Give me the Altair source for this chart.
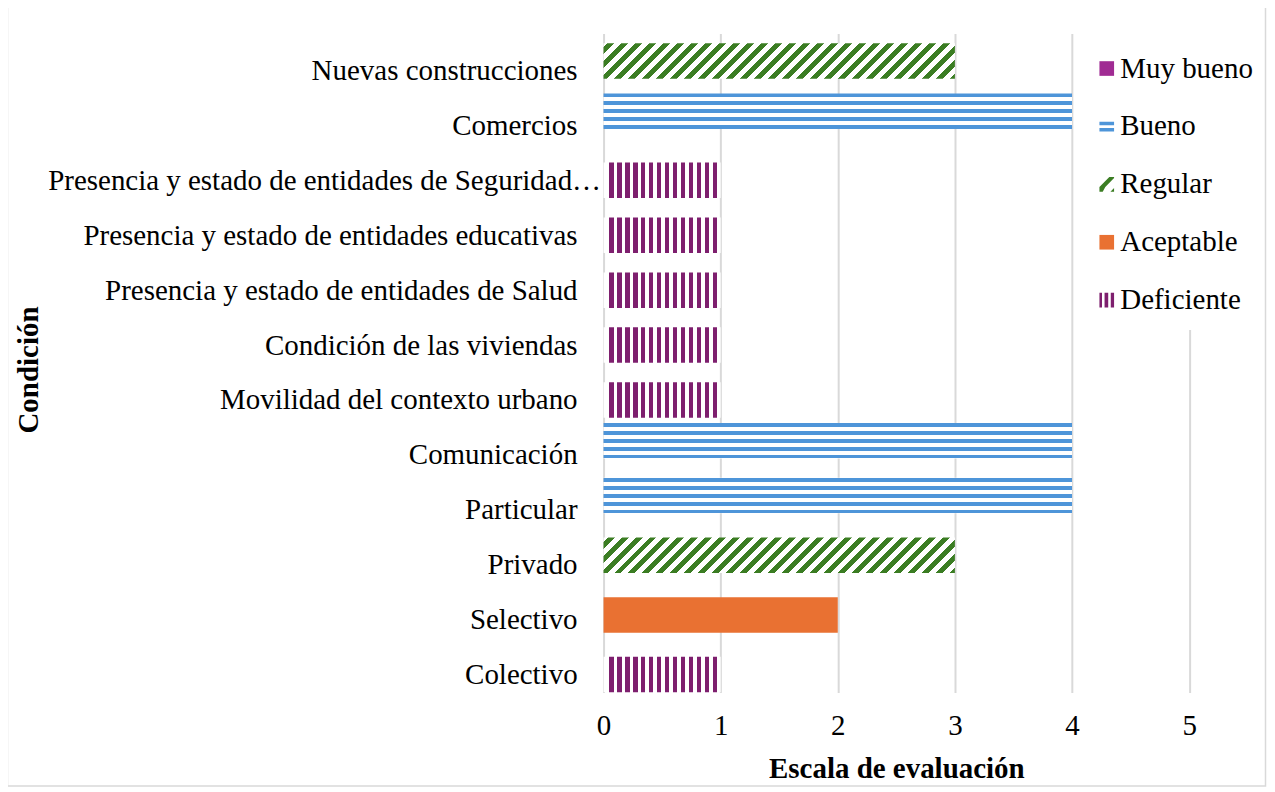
import altair as alt
import pandas as pd

# ---------------- data ----------------
categorias = [
    "Nuevas construcciones",
    "Comercios",
    "Presencia y estado de entidades de Seguridad…",
    "Presencia y estado de entidades educativas",
    "Presencia y estado de entidades de Salud",
    "Condición de las viviendas",
    "Movilidad del contexto urbano",
    "Comunicación\u00a0",
    "Particular",
    "Privado",
    "Selectivo",
    "Colectivo",
]
niveles_cat = [
    "Regular", "Bueno", "Deficiente", "Deficiente", "Deficiente", "Deficiente",
    "Deficiente", "Bueno", "Bueno", "Regular", "Aceptable", "Deficiente",
]
valores = [3, 4, 1, 1, 1, 1, 1, 4, 4, 3, 2, 1]

niveles = ["Muy bueno", "Bueno", "Regular", "Aceptable", "Deficiente"]
colores = ["#A02B93", "#4E95D9", "#3B7D23", "#E97132", "#7E1F6E"]
x_ticks = [0, 1, 2, 3, 4, 5]

df = pd.DataFrame({"Condicion": categorias, "Nivel": niveles_cat, "Valor": valores})
df_leg = pd.DataFrame({"Nivel": niveles})

# ---------------- layout / style ----------------
FONT = "Liberation Serif"
FS = 29
W_PLOT = 586.5
H_PLOT = 660
X_MAX = 5
P_IN = 0.3545
P_OUT = P_IN / 2
STEP = H_PLOT / (len(categorias) - P_IN + 2 * P_OUT)
BAND = STEP * (1 - P_IN)
PX_PER_UNIT = W_PLOT / X_MAX
color_of = dict(zip(niveles, colores))


def stripe_stops(length, start, on, period, color, bg="white"):
    stops = [alt.GradientStop(offset=0, color=bg)]
    a = start
    while a < length - 1:
        b = min(a + on, length)
        fa, fb = max(a, 0) / length, b / length
        stops += [
            alt.GradientStop(offset=fa, color=bg),
            alt.GradientStop(offset=fa, color=color),
            alt.GradientStop(offset=fb, color=color),
            alt.GradientStop(offset=fb, color=bg),
        ]
        a += period
    stops.append(alt.GradientStop(offset=1, color=bg))
    return stops


def bar_width(level):
    return max(v for v, n in zip(valores, niveles_cat) if n == level) * PX_PER_UNIT


# vertical stripes (Deficiente)
w_def = bar_width("Deficiente")
fill_def = alt.LinearGradient(
    gradient="linear", x1=0, y1=0, x2=1, y2=0,
    stops=stripe_stops(w_def, 5.5, 4.5, 8, color_of["Deficiente"]),
)
# horizontal stripes (Bueno)
fill_bueno = alt.LinearGradient(
    gradient="linear", x1=0, y1=0, x2=0, y2=1,
    stops=stripe_stops(BAND, 0, 4, 8, color_of["Bueno"]),
)
# diagonal stripes (Regular)
w_reg = bar_width("Regular")
r = BAND / w_reg
s = (1 + r) / (1 + r * r)
fill_reg = alt.LinearGradient(
    gradient="linear", x1=0, y1=0, x2=s, y2=s * r,
    stops=stripe_stops(w_reg + BAND, 4, 7, 14, color_of["Regular"]),
)
fills = {
    "Bueno": fill_bueno,
    "Regular": fill_reg,
    "Aceptable": color_of["Aceptable"],
    "Deficiente": fill_def,
}

# the truncated label overflows up to the bars, as in the original
label_pad = {
    "condition": {"test": f"datum.value == '{categorias[2]}'", "value": 3},
    "value": 26.5,
}

y_enc = alt.Y(
    "Condicion:N",
    sort=categorias,
    scale=alt.Scale(domain=categorias, paddingInner=P_IN, paddingOuter=P_OUT),
    axis=alt.Axis(
        title="Condición",
        titleFont=FONT, titleFontSize=FS, titleFontWeight="bold", titleColor="black",
        titleAngle=270, titleAlign="center", titleBaseline="alphabetic",
        titleX=-566.5, titleY=336.5,
        labelFont=FONT, labelFontSize=FS, labelColor="black",
        labelAlign="right", labelBaseline="alphabetic", labelOffset=19,
        labelPadding=label_pad, labelLimit=0,
        ticks=False, tickSize=0, domain=False, grid=False,
    ),
)
x_enc = alt.X(
    "Valor:Q",
    scale=alt.Scale(domain=[0, X_MAX], nice=False, zero=True),
    axis=alt.Axis(
        values=x_ticks, format="d",
        title="Escala de evaluación",
        titleFont=FONT, titleFontSize=FS, titleFontWeight="bold", titleColor="black",
        titleAlign="center", titleBaseline="alphabetic", titleX=W_PLOT / 2, titleY=85,
        labelFont=FONT, labelFontSize=FS, labelColor="black",
        labelBaseline="alphabetic", labelPadding=42.5, labelFlush=False,
        ticks=False, tickSize=0, domain=False,
        grid=True, gridColor="#d9d9d9", gridWidth=2,
    ),
)

base = alt.Chart(df)
bars = []
for i, lvl in enumerate(niveles):
    if lvl not in fills:
        continue
    bars.append(
        base.transform_filter(alt.datum.Nivel == lvl)
        .mark_bar(fill=fills[lvl], strokeWidth=0, yOffset=(i - 2) * 4.75)
        .encode(x=x_enc, y=y_enc)
    )

border = (
    alt.Chart(pd.DataFrame({"k": [0]}))
    .mark_rect(filled=False, stroke="#d9d9d9", strokeWidth=1.5)
    .encode(
        x=alt.value(-597), x2=alt.value(663),
        y=alt.value(-26.8), y2=alt.value(753.5),
    )
)

# ---------------- legend (drawn as its own layer) ----------------
shapes = [
    "square",
    "M-1,-0.65H1V-0.15H-1Z M-1,0.2H1V0.7H-1Z",
    "M-1,0.35L0.35,-1L1,-1L1,-0.85L-0.2,0.35L-0.55,1L-1,1Z M0.5,1L1,0.5L1,1Z",
    "square",
    "M-1,-1H-0.65V1H-1Z M-0.3,-1H0.2V1H-0.3Z M0.55,-1H1V1H0.55Z",
]
leg_y = alt.Y(
    "Nivel:N", sort=niveles, axis=None,
    scale=alt.Scale(type="point", domain=niveles, range=[35, 267], padding=0),
)
leg_base = alt.Chart(df_leg)
leg_bg = (
    alt.Chart(pd.DataFrame({"k": [0]}))
    .mark_rect(fill="white", strokeWidth=0)
    .encode(x=alt.value(475.5), x2=alt.value(660), y=alt.value(-0.5), y2=alt.value(297))
)
leg_sym = leg_base.mark_point(filled=True, opacity=1, size=215, strokeWidth=0).encode(
    x=alt.value(504),
    y=leg_y,
    color=alt.Color("Nivel:N", scale=alt.Scale(domain=niveles, range=colores), legend=None),
    shape=alt.Shape("Nivel:N", scale=alt.Scale(domain=niveles, range=shapes), legend=None),
)
leg_txt = leg_base.mark_text(
    align="left", baseline="middle", font=FONT, fontSize=FS, color="black"
).encode(x=alt.value(517.5), y=leg_y, text="Nivel:N")

main = alt.layer(border, *bars)
legend = alt.layer(leg_bg, leg_sym, leg_txt)

chart = (
    alt.layer(main, legend)
    .resolve_scale(y="independent", color="independent", shape="independent")
    .properties(
        width=W_PLOT,
        height=H_PLOT,
        autosize=alt.AutoSizeParams(type="none"),
        padding={"left": 596.5, "top": 25, "right": 78, "bottom": 95},
        background="white",
    )
    .configure(font=FONT)
    .configure_view(stroke=None)
)

chart.save("out.html", embed_options={"renderer": "svg", "actions": False})
